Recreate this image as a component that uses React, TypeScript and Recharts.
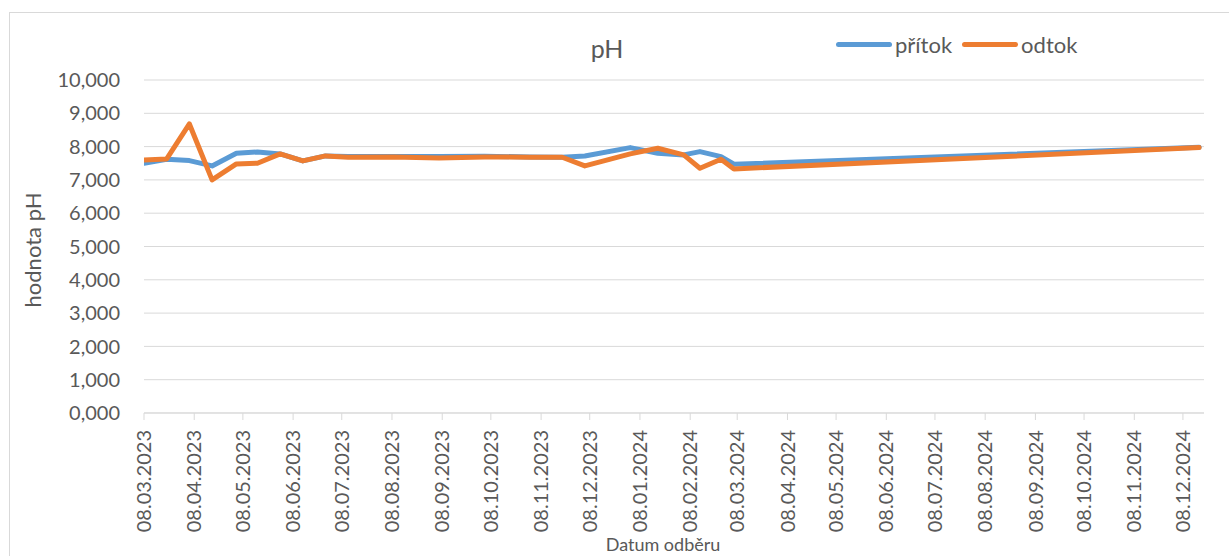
import React from 'react';
import { LineChart, Line, XAxis, YAxis, CartesianGrid } from 'recharts';

// sample dates (DD.MM.YYYY)
const sampleDates = [
  '08.03.2023', '22.03.2023', '05.04.2023', '19.04.2023', '04.05.2023', '17.05.2023',
  '31.05.2023', '14.06.2023', '28.06.2023', '12.07.2023', '09.08.2023', '06.09.2023',
  '04.10.2023', '01.11.2023', '21.11.2023', '05.12.2023', '02.01.2024', '19.01.2024',
  '04.02.2024', '14.02.2024', '27.02.2024', '06.03.2024', '18.12.2024',
];
const pritok = [
  7.50, 7.62, 7.58, 7.42, 7.80, 7.84,
  7.78, 7.57, 7.72, 7.70, 7.70, 7.70,
  7.71, 7.69, 7.68, 7.72, 7.97, 7.80,
  7.75, 7.85, 7.70, 7.47, 7.98,
];
const odtok = [
  7.60, 7.63, 8.68, 7.00, 7.48, 7.50,
  7.78, 7.57, 7.72, 7.68, 7.69, 7.66,
  7.69, 7.68, 7.68, 7.42, 7.78, 7.95,
  7.75, 7.35, 7.62, 7.33, 7.97,
];
const xTickLabels = [
  '08.03.2023', '08.04.2023', '08.05.2023', '08.06.2023', '08.07.2023', '08.08.2023',
  '08.09.2023', '08.10.2023', '08.11.2023', '08.12.2023', '08.01.2024', '08.02.2024',
  '08.03.2024', '08.04.2024', '08.05.2024', '08.06.2024', '08.07.2024', '08.08.2024',
  '08.09.2024', '08.10.2024', '08.11.2024', '08.12.2024',
];
const yTicks = [0, 1, 2, 3, 4, 5, 6, 7, 8, 9, 10];
const axisStart = '08.03.2023';
const axisEnd = '21.12.2024';

const toDay = (s: string) => {
  const [d, m, y] = s.split('.').map(Number);
  return Date.UTC(y, m - 1, d) / 86400000;
};
const fmtDay = (n: number) => {
  const dt = new Date(n * 86400000);
  const dd = String(dt.getUTCDate()).padStart(2, '0');
  const mm = String(dt.getUTCMonth() + 1).padStart(2, '0');
  return `${dd}.${mm}.${dt.getUTCFullYear()}`;
};

const data = sampleDates.map((d, i) => ({ t: toDay(d), pritok: pritok[i], odtok: odtok[i] }));
const xTicks = xTickLabels.map(toDay);

const FONT = 'Lato, "Open Sans", sans-serif';
const TXT = '#595959';
const GRID = '#d9d9d9';
const BLUE = '#5b9bd5';
const ORANGE = '#ed7d31';

const XTick = (props: any) => {
  const { x, y, payload } = props;
  return (
    <text
      x={x}
      y={y}
      dy="0.355em"
      textAnchor="end"
      transform={`rotate(-90, ${x}, ${y})`}
      fill={TXT}
      fontSize={20}
      fontFamily={FONT}
    >
      {fmtDay(payload.value)}
    </text>
  );
};

export default function App() {
  return (
    <div style={{ position: 'fixed', left: 0, top: 0, width: 1229, height: 556, overflow: 'hidden', background: '#fff' }}>
      <div style={{ position: 'absolute', left: 9, top: 12, width: 1400, height: 700, border: `1px solid ${GRID}`, boxSizing: 'border-box' }} />
      <div style={{ position: 'absolute', left: 0, top: 0 }}>
        <LineChart width={1229} height={556} data={data} margin={{ top: 80, right: 25, bottom: 0, left: 0 }}>
          <CartesianGrid horizontal vertical={false} stroke={GRID} strokeWidth={1} />
          <XAxis
            dataKey="t"
            type="number"
            domain={[toDay(axisStart), toDay(axisEnd)]}
            ticks={xTicks}
            interval={0}
            height={143}
            stroke={GRID}
            tickSize={7}
            tickMargin={10}
            tick={<XTick />}
            allowDataOverflow
          />
          <YAxis
            type="number"
            domain={[0, 10]}
            ticks={yTicks}
            interval={0}
            width={144}
            axisLine={false}
            tickLine={false}
            tickSize={0}
            tickMargin={24}
            tickFormatter={(v: number) => v.toFixed(3).replace('.', ',')}
            tick={{ fill: TXT, fontSize: 20, fontFamily: FONT }}
          />
          <Line type="linear" dataKey="pritok" stroke={BLUE} strokeWidth={5} dot={false} strokeLinejoin="round" strokeLinecap="round" isAnimationActive={false} />
          <Line type="linear" dataKey="odtok" stroke={ORANGE} strokeWidth={5} dot={false} strokeLinejoin="round" strokeLinecap="round" isAnimationActive={false} />
        </LineChart>
      </div>
      <div style={{ position: 'absolute', left: 607, top: 33, transform: 'translateX(-50%)', fontFamily: FONT, fontSize: 25, color: TXT, lineHeight: '30px', whiteSpace: 'nowrap' }}>pH</div>
      <div style={{ position: 'absolute', left: 836, top: 29, height: 30, display: 'flex', alignItems: 'center', fontFamily: FONT, fontSize: 22, color: TXT, whiteSpace: 'nowrap' }}>
        <span style={{ display: 'inline-block', width: 56, height: 5, borderRadius: 3, background: BLUE, marginRight: 3 }} />
        <span>přítok</span>
        <span style={{ display: 'inline-block', width: 56, height: 5, borderRadius: 3, background: ORANGE, marginLeft: 10, marginRight: 3 }} />
        <span>odtok</span>
      </div>
      <div style={{ position: 'absolute', left: 33, top: 250, transform: 'translate(-50%, -50%) rotate(-90deg)', fontFamily: FONT, fontSize: 22, color: TXT, whiteSpace: 'nowrap', lineHeight: '24px' }}>hodnota pH</div>
      <div style={{ position: 'absolute', left: 663, top: 533, transform: 'translateX(-50%)', fontFamily: FONT, fontSize: 18, color: TXT, whiteSpace: 'nowrap', lineHeight: '22px' }}>Datum odběru</div>
    </div>
  );
}
